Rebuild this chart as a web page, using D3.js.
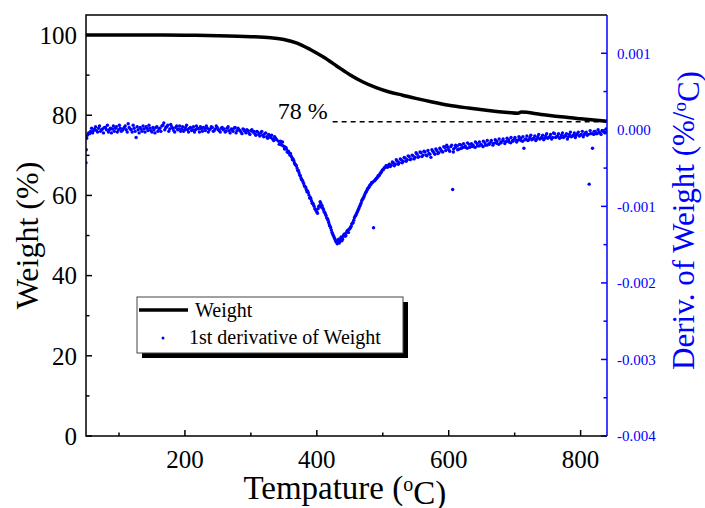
<!DOCTYPE html>
<html>
<head>
<meta charset="utf-8">
<script src="https://cdn.jsdelivr.net/npm/d3@7"></script>
<style>
  body { margin: 0; background: #fff; }
  text { font-family: "Liberation Serif", "DejaVu Serif", serif; }
</style>
</head>
<body>
<div id="graph"></div>
<script>
// weight curve (%)
var weightTemp  = [50, 100, 150, 200, 250, 300, 330, 350, 370, 390, 410, 430, 450, 470, 490, 510, 530, 550, 575, 600, 630, 660, 690, 705, 710, 740, 770, 800, 840];
var weightValue = [100, 100, 100, 99.95, 99.85, 99.6, 99.3, 98.9, 98.0, 96.4, 94.5, 92.3, 90.1, 88.3, 86.9, 85.8, 85.0, 84.2, 83.3, 82.5, 81.8, 81.2, 80.7, 80.5, 80.8, 80.2, 79.6, 79.1, 78.5];

// 1st derivative points: [temperature, value in 1e-4 %/°C]
var derivPoints = [
  [50,-4.3],[50.5,-2.6],[51,-1.1],[52,-0.7],[54,-0.4],[57,-0.2],[60,-0.4],[63,0.1],[66,-0.1],[69,0.2],
  [72,-0.2],[75,0.1],[78,0.3],[81,0.0],[84,-0.3],[87,0.2],[90,0.1],[93,-0.2],[96,0.4],[99,0.0],
  [102,0.2],[105,-0.1],[108,0.3],[111,0.0],[114,0.8],[117,0.1],[120,-0.3],[123,0.2],[126,-1.0],[129,0.0],
  [132,0.3],[135,-0.2],[138,0.1],[141,0.4],[144,-0.1],[147,0.2],[150,-0.3],[153,0.0],[156,0.3],[159,-0.2],
  [162,0.2],[165,0.5],[168,0.9],[171,0.3],[174,0.6],[177,0.1],[180,0.4],[183,-0.1],[186,0.3],[189,0.0],
  [192,0.5],[195,0.1],[198,-0.2],[201,0.3],[204,0.0],[207,0.2],[210,-0.1],[213,0.4],[216,0.0],[219,0.2],
  [222,-0.3],[225,0.1],[228,0.3],[231,-0.1],[234,0.2],[237,0.0],[240,0.4],[243,-0.2],[246,0.1],[249,0.3],
  [252,-0.1],[255,0.2],[258,0.0],[261,-0.3],[264,0.2],[267,-0.1],[270,0.1],[273,-0.2],[276,0.3],[279,-0.1],
  [282,0.0],[285,-0.3],[288,0.1],[291,-0.2],[294,0.0],[297,-0.4],[300,-0.1],[303,-0.3],[306,-0.5],[309,-0.2],
  [312,-0.6],[315,-0.4],[318,-0.7],[321,-0.5],[324,-0.9],[327,-0.6],[330,-1.0],[333,-1.2],[336,-0.9],[339,-1.3],
  [342,-1.5],[345,-1.8],[348,-1.6],[351,-2.2],[354,-2.5],[357,-2.8],[360,-3.1],[362,-3.6],[364,-3.8],[366,-4.3],
  [368,-4.6],[370,-5.0],[372,-5.3],[374,-5.9],[376,-6.3],[378,-6.6],[380,-7.0],[382,-7.4],[384,-7.8],[386,-8.0],
  [388,-8.5],[390,-8.8],[392,-9.3],[394,-9.6],[396,-10.0],[398,-10.4],[400,-10.7],[402,-10.3],[404,-9.9],[406,-9.6],
  [408,-9.9],[410,-10.4],[412,-10.8],[414,-11.2],[416,-11.6],[418,-12.1],[420,-12.6],[422,-13.1],[424,-13.6],[426,-14.0],
  [428,-14.4],[430,-14.7],[432,-14.5],[434,-14.8],[436,-14.2],[438,-14.5],[440,-13.9],[442,-13.6],[444,-13.8],[446,-13.2],
  [448,-13.4],[450,-12.9],[452,-12.6],[454,-12.2],[456,-11.8],[458,-11.3],[460,-11.0],[462,-10.6],[464,-10.2],[466,-9.8],
  [468,-9.3],[470,-9.0],[472,-8.6],[474,-8.2],[476,-7.9],[478,-7.6],[480,-7.3],[482,-7.1],[484,-6.9],[486,-12.8],
  [488,-6.6],[490,-6.4],[492,-6.2],[494,-6.0],[496,-5.7],[498,-5.5],[500,-5.2],[502,-5.0],[504,-4.9],[506,-4.7],
  [508,-4.8],[510,-4.5],[513,-4.6],[516,-4.3],[519,-4.5],[522,-4.1],[525,-4.3],[528,-3.9],[531,-4.1],[534,-3.7],
  [537,-3.9],[540,-3.5],[543,-3.8],[546,-3.4],[549,-3.6],[552,-3.2],[555,-3.5],[558,-3.0],[561,-3.3],[564,-2.9],
  [567,-3.4],[570,-3.1],[573,-3.6],[576,-2.8],[579,-3.2],[582,-2.7],[585,-3.0],[588,-2.6],[591,-2.9],[594,-2.3],
  [597,-2.0],[600,-2.6],[603,-2.2],[606,-7.8],[607,-2.9],[610,-2.3],[613,-2.1],[616,-2.5],[619,-2.0],[622,-2.3],
  [625,-2.1],[628,-2.4],[631,-1.9],[634,-2.2],[637,-2.0],[640,-2.3],[643,-1.8],[646,-2.1],[649,-1.9],[652,-2.2],
  [655,-1.7],[658,-2.0],[661,-1.8],[664,-1.6],[667,-2.0],[670,-1.7],[673,-1.5],[676,-1.9],[679,-1.6],[682,-1.4],
  [685,-1.8],[688,-1.5],[691,-1.3],[694,-1.7],[697,-1.4],[700,-1.2],[703,-1.6],[706,-1.3],[709,-1.1],[712,-1.5],
  [714,-2.4],[717,-1.2],[720,-1.4],[723,-1.0],[726,-1.3],[729,-1.1],[732,-1.4],[735,-0.9],[738,-1.2],[741,-1.0],
  [744,-1.3],[747,-0.8],[750,-1.1],[753,-0.9],[756,-1.2],[759,-0.4],[762,-1.0],[765,-0.8],[768,-1.1],[771,-0.7],
  [774,-1.0],[777,-0.8],[780,-1.2],[783,-0.6],[786,-0.9],[789,-0.7],[792,-1.0],[795,-0.5],[798,-0.8],[801,-0.6],
  [804,-0.9],[807,-0.4],[810,-0.7],[813,-7.1],[815,-0.5],[818,-2.4],[820,-0.6],[822,-0.2],[825,-0.5],[828,-0.3],
  [831,-0.6],[834,-0.2],[837,-0.4],[839,-0.3],
  // second pass of readings, filling the thickness of the band
  [55.5,-0.5],[58.5,0.2],[61.5,-0.1],[64.5,0.4],[67.5,-0.3],[70.5,0.5],[73.5,0.0],[76.5,-0.4],[79.5,0.3],[82.5,0.6],
  [85.5,0.0],[88.5,-0.4],[91.5,0.5],[94.5,0.2],[97.5,-0.3],[100.5,0.6],[103.5,-0.2],[106.5,0.1],[109.5,0.5],[112.5,-0.3],
  [115.5,0.3],[118.5,0.0],[121.5,0.6],[124.5,-0.2],[127.5,0.4],[130.5,-0.4],[133.5,0.1],[136.5,0.5],[139.5,-0.3],[142.5,0.2],
  [145.5,0.6],[148.5,-0.1],[151.5,0.3],[154.5,-0.4],[157.5,0.4],[160.5,0.1],[163.5,-0.2],[166.5,0.6],[169.5,0.0],[172.5,0.4],
  [175.5,-0.2],[178.5,0.7],[181.5,0.2],[184.5,-0.3],[187.5,0.5],[190.5,0.1],[193.5,-0.2],[196.5,0.4],[199.5,0.0],[202.5,0.6],
  [205.5,-0.3],[208.5,0.3],[211.5,0.0],[214.5,-0.3],[217.5,0.5],[220.5,0.1],[223.5,0.4],[226.5,-0.2],[229.5,0.2],[232.5,0.5],
  [235.5,-0.3],[238.5,0.1],[241.5,0.3],[244.5,-0.1],[247.5,0.5],[250.5,0.0],[253.5,-0.3],[256.5,0.3],[259.5,0.1],[262.5,-0.2],
  [265.5,0.4],[268.5,-0.4],[271.5,0.0],[274.5,0.2],[277.5,-0.4],[280.5,0.2],[283.5,-0.1],[286.5,-0.5],[289.5,0.0],[292.5,-0.4],
  [295.5,-0.1],[298.5,-0.6],[301.5,0.0],[304.5,-0.2],[307.5,-0.7],[310.5,-0.3],[313.5,-0.8],[316.5,-0.2],[319.5,-0.9],[322.5,-0.4],
  [325.5,-1.1],[328.5,-0.8],[331.5,-0.7],[334.5,-1.4],[337.5,-1.1],
  [343,-1.9],[345,-1.5],[347,-2.0],[349,-2.1],[351,-2.5],[353,-2.3],[355,-2.9],[357,-3.0],[359,-3.3],[361,-3.4],
  [363,-3.9],[365,-4.0],[367,-4.5],[369,-4.7],[371,-5.3],[373,-5.6],[375,-6.0],[377,-6.5],[379,-6.8],[381,-7.3],
  [383,-7.5],[385,-8.1],[387,-8.2],[389,-8.9],[391,-9.0],[393,-9.6],[395,-9.8],[397,-10.3],[399,-10.6],[401,-10.9],
  [403,-10.0],[405,-9.4],[407,-10.1],[409,-10.2],[411,-10.7],[413,-11.0],[415,-11.5],[417,-11.8],[419,-12.4],[421,-12.8],
  [423,-13.4],[425,-13.8],[427,-14.2],[429,-14.6],[431,-14.9],[433,-14.3],[435,-14.6],[437,-14.0],[439,-14.3],[441,-13.7],
  [443,-13.9],[445,-13.4],[447,-13.1],[449,-13.0],[451,-12.8],[453,-12.3],[455,-12.1],[457,-11.5],[459,-11.2],[461,-10.8],
  [463,-10.4],[465,-10.0],[467,-9.6],[469,-9.1],[471,-8.8],[473,-8.4],[475,-8.1],[477,-7.7],[479,-7.5],[481,-7.2],
  [483,-6.9],[485,-6.8],[487,-6.7],[489,-6.5],[491,-6.3],[493,-6.0],[495,-5.9],[497,-5.6],[499,-5.3],[501,-5.2],
  [503,-4.9],[505,-4.7],[507,-4.9],[509,-4.6],
  [511.5,-4.8],[514.5,-4.2],[517.5,-4.7],[520.5,-3.9],[523.5,-4.5],[526.5,-3.8],[529.5,-4.3],[532.5,-3.6],[535.5,-4.1],[538.5,-3.4],
  [541.5,-3.9],[544.5,-3.3],[547.5,-3.8],[550.5,-3.0],[553.5,-3.6],[556.5,-2.9],[559.5,-3.5],[562.5,-2.8],[565.5,-3.3],[568.5,-2.7],
  [571.5,-3.2],[574.5,-2.6],[577.5,-3.0],[580.5,-2.5],[583.5,-3.1],[586.5,-2.4],[589.5,-2.8],[592.5,-2.2],[595.5,-2.7],[598.5,-2.3],
  [601.5,-2.8],[604.5,-2.0],[607.5,-2.5],[610.5,-2.0],[613.5,-2.6],[616.5,-1.9],[619.5,-2.4],[622.5,-1.8],[625.5,-2.3],[628.5,-1.7],
  [631.5,-2.3],[634.5,-1.8],[637.5,-2.2],[640.5,-1.6],[643.5,-2.1],[646.5,-1.6],[649.5,-2.0],[652.5,-1.5],[655.5,-2.0],[658.5,-1.4],
  [661.5,-1.9],[664.5,-1.4],[667.5,-1.8],[670.5,-1.3],[673.5,-1.8],[676.5,-1.2],[679.5,-1.7],[682.5,-1.2],[685.5,-1.6],[688.5,-1.1],
  [691.5,-1.6],[694.5,-1.0],[697.5,-1.5],[700.5,-1.0],[703.5,-1.4],[706.5,-0.9],[709.5,-1.4],[712.5,-0.9],[715.5,-1.3],[718.5,-0.8],
  [721.5,-1.3],[724.5,-0.7],[727.5,-1.2],[730.5,-0.8],[733.5,-1.2],[736.5,-0.6],[739.5,-1.1],[742.5,-0.7],[745.5,-1.1],[748.5,-0.5],
  [751.5,-1.0],[754.5,-0.6],[757.5,-1.0],[760.5,-0.5],[763.5,-0.9],[766.5,-0.5],[769.5,-1.0],[772.5,-0.4],[775.5,-0.8],[778.5,-0.5],
  [781.5,-0.9],[784.5,-0.3],[787.5,-0.8],[790.5,-0.4],[793.5,-0.7],[796.5,-0.3],[799.5,-0.7],[802.5,-0.2],[805.5,-0.6],[808.5,-0.3],
  [811.5,-0.6],[814.5,-0.1],[817.5,-0.5],[820.5,-0.2],[823.5,-0.5],[826.5,0.0],[829.5,-0.4],[832.5,-0.1],[835.5,-0.3],[838.5,0.1]
];

var xTicks = [200, 400, 600, 800];
var xMinor = [100, 300, 500, 700];
var leftTicks = [0, 20, 40, 60, 80, 100];
var leftMinor = [10, 30, 50, 70, 90];
var rightTicks = [0.001, 0, -0.001, -0.002, -0.003, -0.004];
var rightMinor = [0.0005, -0.0005, -0.0015, -0.0025, -0.0035];

var residueLevel = 78.4;   // dashed line, labelled "78 %"
var residueFrom = 424;

var W = 705, H = 508;
var margin = {top: 15, right: 98, bottom: 72, left: 86};
var width = W - margin.left - margin.right,
    height = H - margin.top - margin.bottom;
var blue = "#0000ff";

var svg = d3.select("#graph").append("svg")
    .attr("width", W)
    .attr("height", H);

var g = svg.append("g")
    .attr("transform", "translate(" + margin.left + "," + margin.top + ")");

var x = d3.scaleLinear().domain([50, 840]).range([0, width]);
var yL = d3.scaleLinear().domain([0, 105]).range([height, 0]);
var yR = d3.scaleLinear().domain([-0.004, 0.0015]).range([height, 0]);

g.append("clipPath").attr("id", "clip")
  .append("rect").attr("width", width).attr("height", height);

// derivative dots
g.append("g").attr("clip-path", "url(#clip)")
  .selectAll("circle")
  .data(derivPoints)
  .enter().append("circle")
    .attr("cx", d => x(d[0]))
    .attr("cy", d => yR(d[1] / 1e4))
    .attr("r", 1.7)
    .style("fill", blue);

// weight curve
var weightData = weightTemp.map((t, i) => [t, weightValue[i]]);
g.append("path")
  .datum(weightData)
  .attr("clip-path", "url(#clip)")
  .attr("fill", "none")
  .attr("stroke", "#000")
  .attr("stroke-width", 3.5)
  .attr("d", d3.line()
    .curve(d3.curveMonotoneX)
    .x(d => x(d[0]))
    .y(d => yL(d[1])));

// residue marker
g.append("line")
  .attr("x1", x(residueFrom)).attr("x2", width)
  .attr("y1", yL(residueLevel)).attr("y2", yL(residueLevel))
  .attr("stroke", "#000")
  .attr("stroke-width", 1.5)
  .attr("stroke-dasharray", "5,4");

g.append("text")
  .attr("x", x(residueFrom) - 5)
  .attr("y", yL(residueLevel) - 3)
  .attr("text-anchor", "end")
  .style("font-size", "24px")
  .text("78 %");

// axes: ticks point inward
function tickLine(sel, ticks, len, fn, color) {
  sel.selectAll(null).data(ticks).enter().append("line")
    .each(function(d) { var p = fn(d, len); d3.select(this).attr("x1", p[0]).attr("y1", p[1]).attr("x2", p[2]).attr("y2", p[3]); })
    .attr("stroke", color).attr("stroke-width", 1.5);
}

var axes = g.append("g");
tickLine(axes, xTicks, 6, (d, l) => [x(d), height, x(d), height - l], "#000");
tickLine(axes, xMinor, 3.5, (d, l) => [x(d), height, x(d), height - l], "#000");
tickLine(axes, leftTicks, 6, (d, l) => [0, yL(d), l, yL(d)], "#000");
tickLine(axes, leftMinor, 3.5, (d, l) => [0, yL(d), l, yL(d)], "#000");
tickLine(axes, rightTicks, 6, (d, l) => [width, yR(d), width - l, yR(d)], blue);
tickLine(axes, rightMinor, 3.5, (d, l) => [width, yR(d), width - l, yR(d)], blue);

// frame
axes.append("path")
  .attr("d", "M" + width + ",0H0V" + height + "H" + width)
  .attr("fill", "none").attr("stroke", "#000").attr("stroke-width", 1.5);
axes.append("line")
  .attr("x1", width).attr("x2", width).attr("y1", 0).attr("y2", height)
  .attr("stroke", blue).attr("stroke-width", 1.5);

// tick labels
axes.selectAll(".xl").data(xTicks).enter().append("text")
  .attr("x", d => x(d)).attr("y", height + 32)
  .attr("text-anchor", "middle")
  .style("font-size", "25px")
  .text(d => d);

axes.selectAll(".yl").data(leftTicks).enter().append("text")
  .attr("x", -9).attr("y", d => yL(d)).attr("dy", "0.35em")
  .attr("text-anchor", "end")
  .style("font-size", "25px")
  .text(d => d);

axes.selectAll(".yr").data(rightTicks).enter().append("text")
  .attr("x", width + 10).attr("y", d => yR(d)).attr("dy", "0.35em")
  .style("font-size", "15px")
  .style("fill", blue)
  .text(d => d.toFixed(3));

// axis titles
var xt = svg.append("text")
  .attr("x", margin.left + x(400) + 28).attr("y", 499)
  .attr("text-anchor", "middle")
  .style("font-size", "33px");
xt.append("tspan").text("Tempature (");
xt.append("tspan").attr("dy", "-0.4em").style("font-size", "20px").text("o");
xt.append("tspan").attr("dy", "0.4em").text("C)");

svg.append("text")
  .attr("transform", "translate(38," + (margin.top + height / 2 + 10) + ") rotate(-90)")
  .attr("text-anchor", "middle")
  .style("font-size", "32px")
  .text("Weight (%)");

var yt = svg.append("text")
  .attr("transform", "translate(694," + (margin.top + height / 2 - 5) + ") rotate(-90)")
  .attr("text-anchor", "middle")
  .style("font-size", "31px")
  .style("fill", blue);
yt.append("tspan").text("Deriv. of Weight (%/");
yt.append("tspan").attr("dy", "-0.4em").style("font-size", "19px").text("o");
yt.append("tspan").attr("dy", "0.4em").text("C)");

// legend with drop shadow
var legend = svg.append("g").attr("transform", "translate(137,297)");
legend.append("rect")
  .attr("x", 5).attr("y", 5).attr("width", 266).attr("height", 56)
  .style("fill", "#000");
legend.append("rect")
  .attr("width", 266).attr("height", 56)
  .style("fill", "#fff").style("stroke", "#444").style("stroke-width", 1);
legend.append("line")
  .attr("x1", 2).attr("x2", 51).attr("y1", 13).attr("y2", 13)
  .attr("stroke", "#000").attr("stroke-width", 3.5);
legend.append("text")
  .attr("x", 58).attr("y", 20)
  .style("font-size", "20px")
  .text("Weight");
legend.append("circle")
  .attr("cx", 26).attr("cy", 41).attr("r", 1.5)
  .style("fill", blue);
legend.append("text")
  .attr("x", 52).attr("y", 47)
  .style("font-size", "20px")
  .text("1st derivative of Weight");
</script>
</body>
</html>
